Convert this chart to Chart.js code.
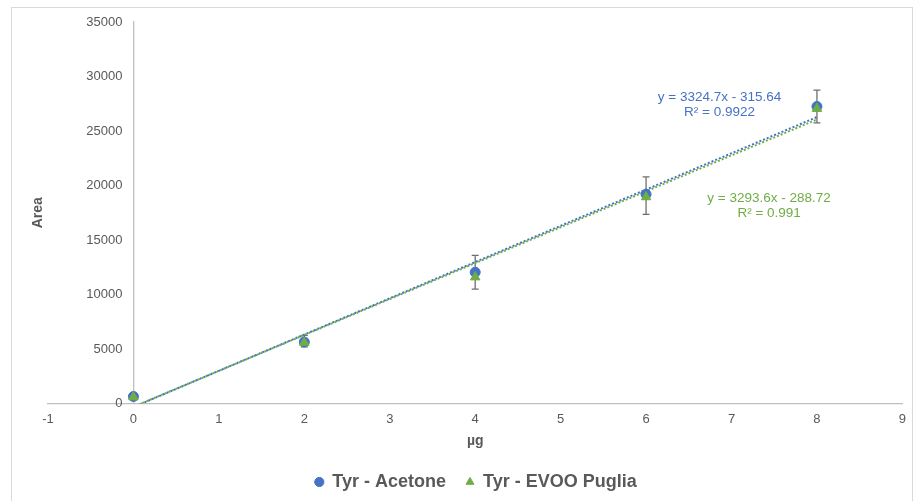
<!DOCTYPE html>
<html>
<head>
<meta charset="utf-8">
<script src="https://cdn.jsdelivr.net/npm/chart.js@4"></script>
<style>
  html, body { margin: 0; padding: 0; background: #fff; }
  #wrap { position: relative; width: 914px; height: 501px; }
  #frame { position: absolute; left: 11px; top: 7px; width: 902px; height: 520px; border: 1px solid #d9d9d9; box-sizing: border-box; }
  canvas { position: absolute; left: 0; top: 0; }
</style>
</head>
<body>
<div id="wrap">
  <div id="frame"></div>
  <canvas id="chart" width="914" height="501"></canvas>
</div>
<script>
const xValues = [0, 2, 4, 6, 8];
const acetone = [650, 5650, 12050, 19200, 27250];
const evoo = [600, 5600, 11600, 18950, 27050];
const errHigh = [0, 6250, 13600, 20800, 28750];
const errLow = [0, 5200, 10500, 17350, 25750];

// trendline end points (x = 0 and x = 8), from the printed equations
const trendX = [0, 8];
const trendAcetone = [-315.64, 26282.0];
const trendEvoo = [-288.72, 26060.1];

const blue = '#4472C4';
const green = '#70AD47';
const grey = '#595959';
const FONT = '"Liberation Sans", Arial, sans-serif';

const eqLabels = [
  { lines: ['y = 3324.7x - 315.64', 'R² = 0.9922'], x: 6.86, y: 28050, color: blue },
  { lines: ['y = 3293.6x - 288.72', 'R² = 0.991'], x: 7.44, y: 18850, color: green }
];

const errorBars = {
  id: 'errorBars',
  beforeDatasetsDraw(chart) {
    const { ctx, scales: { x, y } } = chart;
    ctx.save();
    ctx.strokeStyle = '#6f6f6f';
    ctx.lineWidth = 1.3;
    xValues.forEach((v, i) => {
      if (errHigh[i] === errLow[i]) return;
      const px = x.getPixelForValue(v);
      const top = y.getPixelForValue(errHigh[i]);
      const bot = y.getPixelForValue(errLow[i]);
      ctx.beginPath();
      ctx.moveTo(px, top); ctx.lineTo(px, bot);
      ctx.moveTo(px - 3.5, top); ctx.lineTo(px + 3.5, top);
      ctx.moveTo(px - 3.5, bot); ctx.lineTo(px + 3.5, bot);
      ctx.stroke();
    });
    ctx.restore();
  }
};

const equations = {
  id: 'equations',
  afterDraw(chart) {
    const { ctx, scales: { x, y } } = chart;
    ctx.save();
    ctx.font = '13.5px ' + FONT;
    ctx.textAlign = 'center';
    ctx.textBaseline = 'middle';
    eqLabels.forEach(l => {
      ctx.fillStyle = l.color;
      const px = x.getPixelForValue(l.x);
      const py = y.getPixelForValue(l.y);
      l.lines.forEach((t, k) => ctx.fillText(t, px, py + k * 15));
    });
    ctx.restore();
  }
};

// y axis sits at x = 0, labels a little left of it, plus the "Area" title
const yAxisText = {
  id: 'yAxisText',
  afterDraw(chart) {
    const { ctx, scales: { x, y } } = chart;
    ctx.save();
    ctx.fillStyle = grey;
    ctx.font = '13px ' + FONT;
    ctx.textAlign = 'right';
    ctx.textBaseline = 'middle';
    const ax = x.getPixelForValue(0);
    y.ticks.forEach(t => ctx.fillText(String(t.value), ax - 11, y.getPixelForValue(t.value)));
    ctx.font = 'bold 14px ' + FONT;
    ctx.translate(38, (y.top + y.bottom) / 2);
    ctx.rotate(-Math.PI / 2);
    ctx.textAlign = 'center';
    ctx.fillText('Area', 0, 0);
    ctx.restore();
  }
};

new Chart(document.getElementById('chart'), {
  type: 'scatter',
  data: {
    datasets: [
      {
        label: 'Tyr - Acetone',
        data: xValues.map((v, i) => ({ x: v, y: acetone[i] })),
        backgroundColor: blue,
        borderColor: blue,
        pointStyle: 'circle',
        pointRadius: 5,
        order: 2
      },
      {
        label: 'Tyr - EVOO Puglia',
        data: xValues.map((v, i) => ({ x: v, y: evoo[i] })),
        backgroundColor: green,
        borderColor: green,
        pointStyle: 'triangle',
        pointRadius: 5.5,
        order: 1
      },
      {
        label: 'trend acetone',
        type: 'line',
        data: trendX.map((v, i) => ({ x: v, y: trendAcetone[i] })),
        borderColor: blue,
        borderWidth: 2,
        borderDash: [2, 2],
        pointRadius: 0,
        fill: false,
        order: 4
      },
      {
        label: 'trend evoo',
        type: 'line',
        data: trendX.map((v, i) => ({ x: v, y: trendEvoo[i] })),
        borderColor: green,
        borderWidth: 2,
        borderDash: [2, 2],
        borderDashOffset: 2,
        pointRadius: 0,
        fill: false,
        order: 3
      }
    ]
  },
  options: {
    responsive: false,
    animation: false,
    layout: { padding: { left: 48, right: 10, top: 22, bottom: 0 } },
    plugins: {
      tooltip: { enabled: false },
      legend: {
        position: 'bottom',
        labels: {
          filter: item => !item.text.startsWith('trend'),
          sort: (a, b) => a.datasetIndex - b.datasetIndex,
          usePointStyle: true,
          boxWidth: 8,
          boxHeight: 6.5,
          padding: 20,
          color: grey,
          font: { family: FONT, size: 18, weight: 'bold' }
        }
      }
    },
    scales: {
      x: {
        type: 'linear',
        min: -1,
        max: 9,
        ticks: { stepSize: 1, color: grey, font: { family: FONT, size: 13 }, padding: 8, callback: v => String(v) },
        grid: { display: false, drawTicks: false },
        border: { color: '#bfbfbf', width: 1.3 },
        title: { display: true, text: 'µg', color: grey, font: { family: FONT, size: 14, weight: 'bold' }, padding: { top: -2, bottom: 3 } }
      },
      y: {
        min: 0,
        max: 35000,
        position: { x: 0 },
        ticks: { stepSize: 5000, display: false },
        grid: { display: false, drawTicks: false },
        border: { color: '#bfbfbf', width: 1.3 }
      }
    }
  },
  plugins: [errorBars, equations, yAxisText]
});
</script>
</body>
</html>
